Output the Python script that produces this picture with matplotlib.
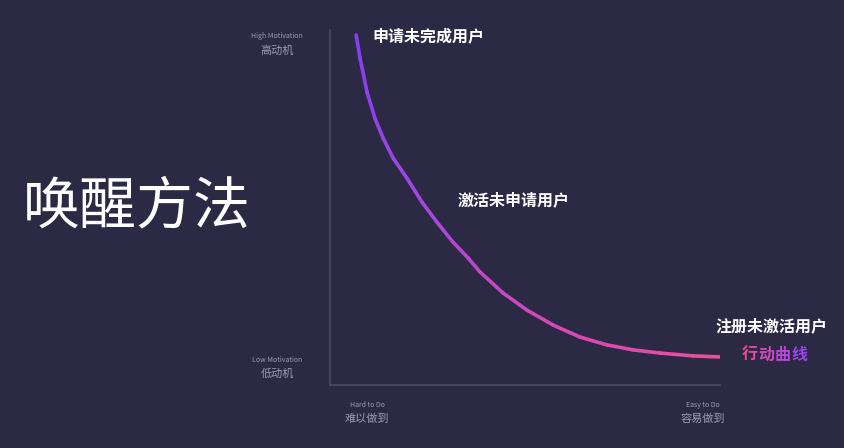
import numpy as np
import matplotlib
matplotlib.use("Agg")
import matplotlib.pyplot as plt
from matplotlib.collections import LineCollection
from matplotlib.colors import LinearSegmentedColormap

plt.rcParams['font.family'] = ['Noto Sans CJK SC', 'DejaVu Sans']

# ---- data ----
title = "唤醒方法"
ease = [0.67, 0.77, 0.95, 1.15, 1.36, 1.62, 1.97, 2.36, 2.74, 3.15, 3.54, 3.85,
        4.44, 5.05, 5.72, 6.41, 7.10, 7.77, 8.46, 9.31, 10.0]
motivation = [9.86, 9.21, 8.25, 7.52, 6.96, 6.39, 5.83, 5.15, 4.59, 4.03, 3.58, 3.18,
              2.59, 2.11, 1.69, 1.35, 1.13, 0.99, 0.90, 0.82, 0.79]
point_labels = ["申请未完成用户", "激活未申请用户", "注册未激活用户"]
curve_label = "行动曲线"
y_top = ("High Motivation", "高动机")
y_bottom = ("Low Motivation", "低动机")
x_left = ("Hard to Do", "难以做到")
x_right = ("Easy to Do", "容易做到")

BG = "#2b2944"
W, H = 844, 448
fig = plt.figure(figsize=(W / 100, H / 100), dpi=100, facecolor=BG)

def fx(px):
    return px / W

def fy(py):
    return 1 - py / H

ax = fig.add_axes([fx(330), fy(385), (720 - 330) / W, (385 - 30) / H])
ax.set_facecolor(BG)
ax.set_xlim(0, 10)
ax.set_ylim(0, 10)
for s in ["top", "right"]:
    ax.spines[s].set_visible(False)
for s in ["left", "bottom"]:
    ax.spines[s].set_color("#4a4865")
    ax.spines[s].set_linewidth(1.2)
ax.set_xticks([])
ax.set_yticks([])

# gradient curve
x = np.array(ease)
y = np.array(motivation)
pts = np.column_stack([x, y]).reshape(-1, 1, 2)
segs = np.concatenate([pts[:-1], pts[1:]], axis=1)
cmap = LinearSegmentedColormap.from_list("g", ["#8540ee", "#a346e2", "#cf48bc", "#e5509f"])
t = np.linspace(0, 1, len(segs))
lc = LineCollection(segs, colors=cmap(t), linewidths=2.6, capstyle="round", joinstyle="round")
ax.add_collection(lc)

# title
fig.text(fx(137), fy(207), title, color="white", fontsize=41, ha="center", va="center",
         fontweight="medium")

# point labels
fig.text(fx(372), fy(36), point_labels[0], color="white", fontsize=11.5, fontweight="bold",
         ha="left", va="center")
fig.text(fx(458), fy(200), point_labels[1], color="white", fontsize=11.5, fontweight="bold",
         ha="left", va="center")
fig.text(fx(715), fy(326), point_labels[2], color="white", fontsize=11.5, fontweight="bold",
         ha="left", va="center")

# gradient curve label
char_cols = ["#e8489e", "#d449c0", "#bb48d8", "#9c45ea"]
for i, ch in enumerate(curve_label):
    fig.text(fx(742 + i * 16.5), fy(355), ch, color=char_cols[i], fontsize=11.5,
             fontweight="bold", ha="left", va="center")

# axis end labels
small = "#9d9bb5"
fig.text(fx(277), fy(36), y_top[0], color=small, fontsize=5, ha="center", va="center")
fig.text(fx(277), fy(51), y_top[1], color=small, fontsize=8, ha="center", va="center")
fig.text(fx(277), fy(360), y_bottom[0], color=small, fontsize=5, ha="center", va="center")
fig.text(fx(277), fy(374), y_bottom[1], color=small, fontsize=8, ha="center", va="center")
fig.text(fx(367), fy(405), x_left[0], color=small, fontsize=5, ha="center", va="center")
fig.text(fx(367), fy(419), x_left[1], color=small, fontsize=8, ha="center", va="center")
fig.text(fx(703), fy(405), x_right[0], color=small, fontsize=5, ha="center", va="center")
fig.text(fx(703), fy(419), x_right[1], color=small, fontsize=8, ha="center", va="center")

fig.savefig("out.png", dpi=100, facecolor=BG)
